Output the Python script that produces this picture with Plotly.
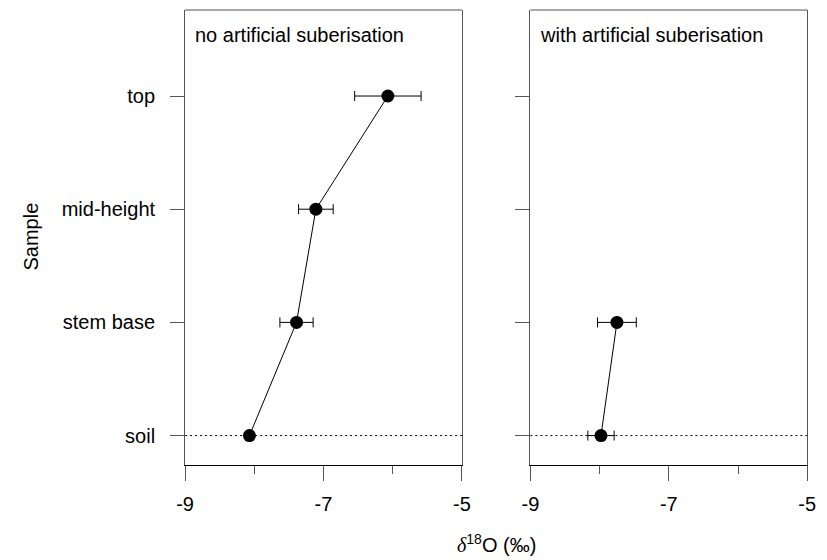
import plotly.graph_objects as go

samples = ["soil", "stem base", "mid-height", "top"]
y_pos = [0, 1, 2, 3]

# no artificial suberisation
left_x = [-8.07, -7.39, -7.11, -6.07]
left_err = [0.0, 0.24, 0.25, 0.48]

# with artificial suberisation
right_x = [-7.98, -7.75]
right_err = [0.19, 0.28]
right_y = [0, 1]

x_ticks = [-9, -7, -5]
x_minor = [-8, -6]
panel_titles = ["no artificial suberisation", "with artificial suberisation"]

FONT = "Arial, Liberation Sans, sans-serif"
FS = 20

fig = go.Figure()

fig.add_trace(go.Scatter(
    x=left_x, y=y_pos, mode="lines+markers",
    line=dict(color="black", width=1),
    marker=dict(color="black", size=13),
    error_x=dict(type="data", array=left_err, color="black", thickness=1, width=5, visible=True),
    xaxis="x", yaxis="y", showlegend=False))

fig.add_trace(go.Scatter(
    x=right_x, y=right_y, mode="lines+markers",
    line=dict(color="black", width=1),
    marker=dict(color="black", size=13),
    error_x=dict(type="data", array=right_err, color="black", thickness=1, width=5, visible=True),
    xaxis="x2", yaxis="y2", showlegend=False))

W, H = 827, 560
ydom = [1 - 465 / H, 1 - 10 / H]
yrange = [-0.26, 3.76]

xcommon = dict(range=[-9, -5], tickmode="array", tickvals=x_ticks,
               ticktext=[str(v) for v in x_ticks],
               ticks="outside", ticklen=15, tickwidth=1, tickcolor="#555",
               ticklabelstandoff=6,
               showline=True, linecolor="black", linewidth=1, mirror=False,
               showgrid=False, zeroline=False,
               minor=dict(tickvals=x_minor, ticks="outside", ticklen=8, tickcolor="#555", tickwidth=1, showgrid=False),
               tickfont=dict(size=FS, color="black", family=FONT))

ycommon = dict(range=yrange, tickmode="array", tickvals=y_pos,
               ticks="outside", ticklen=14, tickwidth=1, tickcolor="#555",
               showline=True, linecolor="#555", linewidth=1, mirror=True,
               showgrid=False, zeroline=False,
               tickfont=dict(size=FS, color="black", family=FONT))

fig.update_layout(
    width=W, height=H,
    margin=dict(l=0, r=0, t=0, b=0),
    paper_bgcolor="white", plot_bgcolor="white",
    font=dict(family=FONT, size=FS, color="black"),
    xaxis=dict(domain=[180 / W, 463 / W], anchor="y", **xcommon),
    xaxis2=dict(domain=[533 / W, 816 / W], anchor="y2", **xcommon),
    yaxis=dict(domain=ydom, anchor="x", ticktext=samples, ticklabelstandoff=11, **ycommon),
    yaxis2=dict(domain=ydom, anchor="x2", showticklabels=False, **ycommon),
)

# top borders and dotted soil reference lines
for xr, yr in [("x", "y"), ("x2", "y2")]:
    fig.add_shape(type="line", xref=f"{xr} domain", yref=f"{yr} domain",
                  x0=0, x1=1, y0=1, y1=1, line=dict(color="#555", width=1))
    fig.add_shape(type="line", xref=f"{xr} domain", yref=yr,
                  x0=0, x1=1, y0=y_pos[0], y1=y_pos[0],
                  line=dict(color="black", width=1, dash="2px,3px"), layer="below")

fig.add_annotation(text=panel_titles[0], xref="x domain", yref="y domain",
                   x=8 / 283, y=1 - 25 / 455, xanchor="left", yanchor="middle",
                   showarrow=False, font=dict(size=FS, family=FONT))
fig.add_annotation(text=panel_titles[1], xref="x2 domain", yref="y2 domain",
                   x=8 / 283, y=1 - 25 / 455, xanchor="left", yanchor="middle",
                   showarrow=False, font=dict(size=FS, family=FONT))

fig.add_annotation(text="<span style='font-family:Liberation Serif, serif'><i>δ</i></span><sup>18</sup>O (‰)",
                   xref="paper", yref="paper",
                   x=498 / W, y=1 - 543 / H, xanchor="center", yanchor="middle",
                   showarrow=False, font=dict(size=FS, family=FONT))
fig.add_annotation(text="Sample", xref="paper", yref="paper",
                   x=22 / W, y=1 - 237 / H, xanchor="center", yanchor="middle",
                   textangle=-90, showarrow=False, font=dict(size=FS, family=FONT))

fig.write_html("out.html")
